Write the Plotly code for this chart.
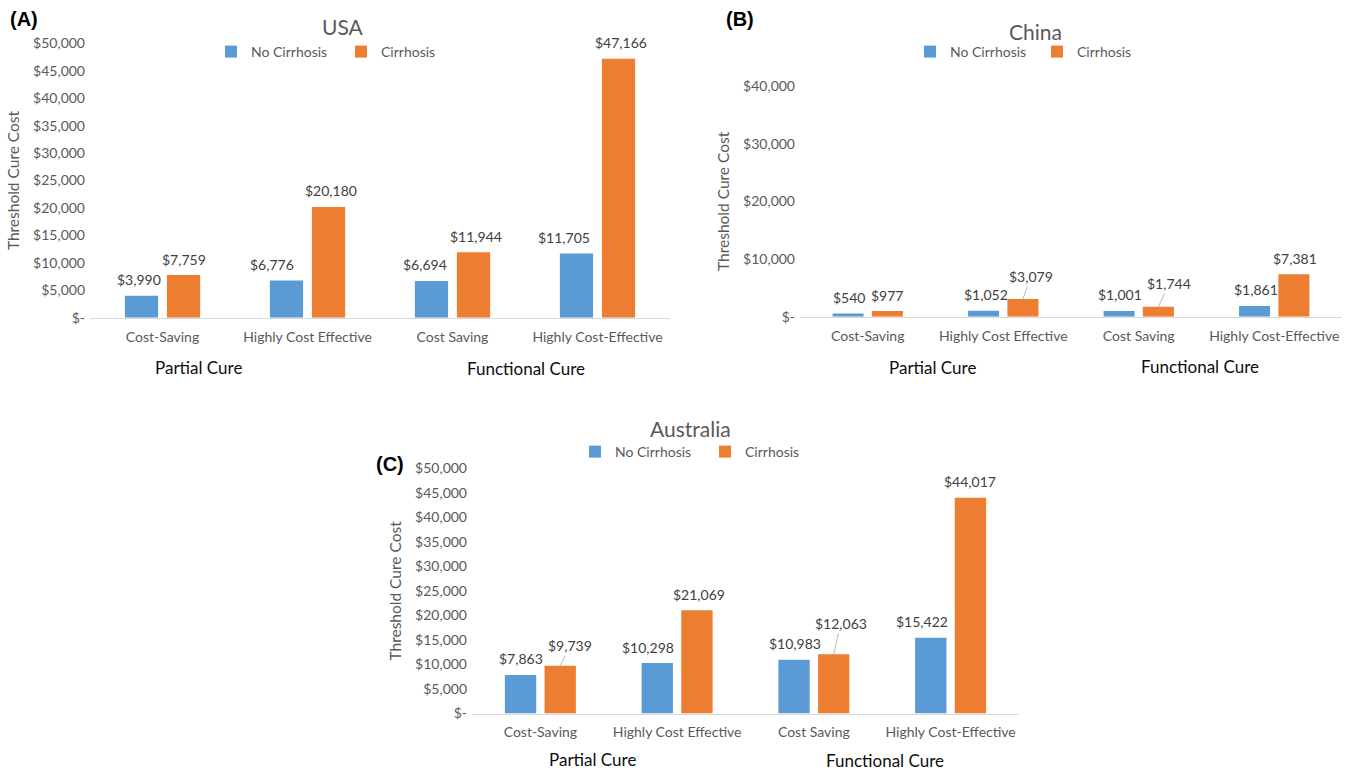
import plotly.graph_objects as go

# ---- data -------------------------------------------------------------
categories = ["Cost-Saving", "Highly Cost Effective", "Cost Saving", "Highly Cost-Effective"]

usa_no_cirrhosis = [3990, 6776, 6694, 11705]
usa_cirrhosis = [7759, 20180, 11944, 47166]

china_no_cirrhosis = [540, 1052, 1001, 1861]
china_cirrhosis = [977, 3079, 1744, 7381]

aus_no_cirrhosis = [7863, 10298, 10983, 15422]
aus_cirrhosis = [9739, 21069, 12063, 44017]

usa_ticks = [0, 5000, 10000, 15000, 20000, 25000, 30000, 35000, 40000, 45000, 50000]
china_ticks = [0, 10000, 20000, 30000, 40000]
aus_ticks = [0, 5000, 10000, 15000, 20000, 25000, 30000, 35000, 40000, 45000, 50000]

series_names = ["No Cirrhosis", "Cirrhosis"]
group_labels = ["Partial Cure", "Functional Cure"]

# ---- styling ----------------------------------------------------------
W, H = 1346, 771
BLUE = "#5B9BD5"
ORANGE = "#ED7D31"
GRAY = "#595959"
LABEL = "#404040"
FONT = "Lato, 'Open Sans', sans-serif"
BARGAP = 0.42
GROUPGAP = 0.21
OFF = (1 - BARGAP) / 4  # bar centre offset from category centre (category units)


def px_x(p):
    return p / W


def px_y(p):
    return 1 - p / H


def money(v):
    return "$-" if v == 0 else f"${v:,}"


fig = go.Figure()

panels = [
    dict(
        key="", name="USA", tag="(A)", legend="legend",
        no=usa_no_cirrhosis, yes=usa_cirrhosis, ticks=usa_ticks, ymax=50000,
        xdom=(90, 670), ydom=(43.3, 317.7),
        title_xy=(343, 27), tag_xy=(24, 19), legend_xy=(211, 52), entry=85,
        groups_xy=[(198, 367), (526, 368)],
        dx_no=[-2, -14, -6, -12], dx_yes=[0, 2, 2, 2], arrows={},
    ),
    dict(
        key="2", name="China", tag="(B)", legend="legend2",
        no=china_no_cirrhosis, yes=china_cirrhosis, ticks=china_ticks, ymax=40000,
        xdom=(800, 1342), ydom=(86, 316.7),
        title_xy=(1035, 32), tag_xy=(740, 19), legend_xy=(910, 52), entry=82,
        groups_xy=[(932, 367), (1200, 366)],
        dx_no=[1, 2, 1, 1], dx_yes=[0, 0, 0, 1],
        arrows={1: (8, -22), 2: (11, -23)},
    ),
    dict(
        key="3", name="Australia", tag="(C)", legend="legend3",
        no=aus_no_cirrhosis, yes=aus_cirrhosis, ticks=aus_ticks, ymax=50000,
        xdom=(472, 1019), ydom=(468.3, 713.5),
        title_xy=(691, 428), tag_xy=(390, 464), legend_xy=(575, 452), entry=85,
        groups_xy=[(592, 759), (885, 760)],
        dx_no=[0, -9, 1, -9], dx_yes=[0, 2, 0, 0],
        arrows={0: (10, -20), 2: (7, -31)},
    ),
]

annotations = []
layout_axes = {}
legends = {}

for p in panels:
    xa = "x" + p["key"]
    ya = "y" + p["key"]
    for vals, nm, col in ((p["no"], series_names[0], BLUE), (p["yes"], series_names[1], ORANGE)):
        fig.add_trace(go.Bar(
            x=categories, y=vals, name=nm, marker=dict(color=col, line=dict(width=0)),
            xaxis=xa, yaxis=ya, legend=p["legend"], showlegend=True,
            hovertemplate="%{x}<br>" + nm + ": $%{y:,}<extra></extra>",
        ))

    layout_axes["xaxis" + p["key"]] = dict(
        domain=[px_x(p["xdom"][0]), px_x(p["xdom"][1])],
        anchor=ya, showline=True, linecolor="#D9D9D9", linewidth=1.2,
        showgrid=False, zeroline=False, ticks="", ticklabelstandoff=6,
        tickfont=dict(family=FONT, size=14, color=GRAY), fixedrange=True,
        automargin=False,
    )
    layout_axes["yaxis" + p["key"]] = dict(
        domain=[px_y(p["ydom"][1]), px_y(p["ydom"][0])],
        anchor=xa, range=[0, p["ymax"]], showline=False, showgrid=False,
        zeroline=False, ticks="", tickvals=p["ticks"],
        ticktext=[money(t) for t in p["ticks"]], ticklabelstandoff=4,
        tickfont=dict(family=FONT, size=14, color=GRAY),
        title=dict(text="Threshold Cure Cost", standoff=9,
                   font=dict(family=FONT, size=15.5, color=GRAY)),
        fixedrange=True, automargin=False,
    )

    legends[p["legend"]] = dict(
        orientation="h", x=px_x(p["legend_xy"][0]), y=px_y(p["legend_xy"][1]),
        xanchor="left", yanchor="middle", entrywidth=p["entry"], entrywidthmode="pixels",
        font=dict(family=FONT, size=14, color=GRAY), bgcolor="rgba(0,0,0,0)",
        borderwidth=0, tracegroupgap=0,
    )

    # panel title and tag
    annotations.append(dict(
        text=p["name"], xref="paper", yref="paper",
        x=px_x(p["title_xy"][0]), y=px_y(p["title_xy"][1]),
        xanchor="center", yanchor="middle", showarrow=False,
        font=dict(family=FONT, size=21, color=GRAY),
    ))
    annotations.append(dict(
        text="<b>" + p["tag"] + "</b>", xref="paper", yref="paper",
        x=px_x(p["tag_xy"][0]), y=px_y(p["tag_xy"][1]),
        xanchor="center", yanchor="middle", showarrow=False,
        font=dict(family="Liberation Sans, Arial, sans-serif", size=20, color="#000000"),
    ))
    for g, (gx, gy) in zip(group_labels, p["groups_xy"]):
        annotations.append(dict(
            text=g, xref="paper", yref="paper", x=px_x(gx), y=px_y(gy),
            xanchor="center", yanchor="middle", showarrow=False,
            font=dict(family=FONT, size=17, color="#0D0D0D"),
        ))

    # value labels above the bars
    for i in range(len(categories)):
        for vals, side, dxs in ((p["no"], -1, p["dx_no"]), (p["yes"], 1, p["dx_yes"])):
            v = vals[i]
            base = dict(
                text=money(v), xref=xa, yref=ya, x=i + side * OFF, y=v,
                font=dict(family=FONT, size=14, color=LABEL),
            )
            if side == 1 and i in p["arrows"]:
                ax, ay = p["arrows"][i]
                base.update(showarrow=True, arrowhead=0, arrowwidth=0.8,
                            arrowcolor="#A6A6A6", ax=ax, ay=ay, standoff=0)
            else:
                base.update(showarrow=False, xanchor="center", yanchor="middle",
                            xshift=dxs[i], yshift=16)
            annotations.append(base)

fig.update_layout(
    template="none",
    width=W, height=H, margin=dict(l=0, r=0, t=0, b=0, autoexpand=False),
    paper_bgcolor="white", plot_bgcolor="white",
    barmode="group", bargap=BARGAP, bargroupgap=GROUPGAP,
    font=dict(family=FONT, color=GRAY),
    annotations=annotations, **layout_axes, **legends,
)

fig.write_html("out.html")
